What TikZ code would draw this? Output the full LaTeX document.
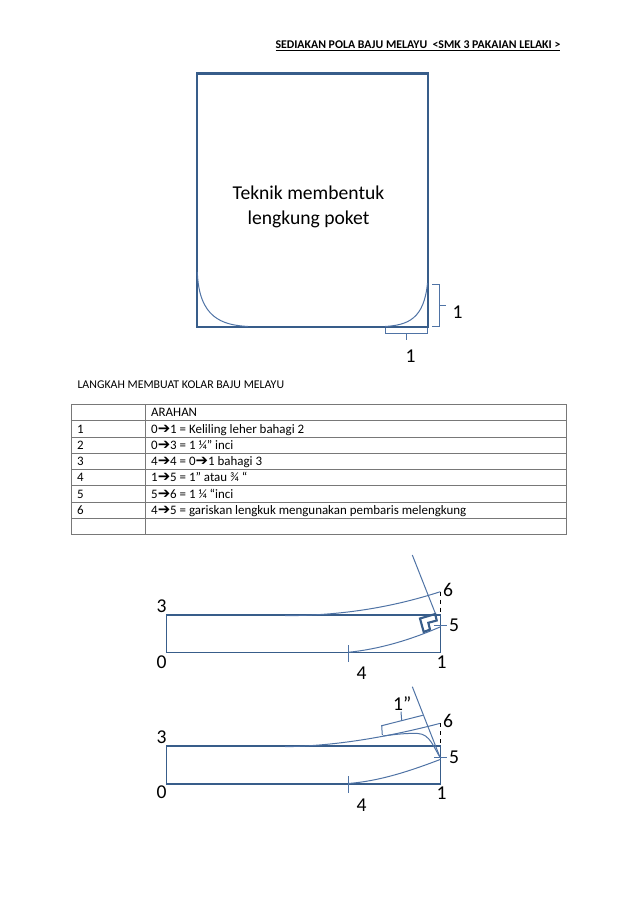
\documentclass[tikz,border=0pt]{standalone}
\usepackage{fontspec}
\setmainfont{Carlito}
\newfontfamily\arrowfont{DejaVu Sans}
\newcommand{\arrowmark}{{\arrowfont\scalebox{1.15}{➔}}}
\definecolor{darkblue}{RGB}{56,93,138}
\definecolor{thinblue}{RGB}{79,115,165}
\definecolor{rulegrey}{RGB}{120,120,120}
\tikzset{
  every picture/.style={line width=0.75pt},
  thinline/.style={color=thinblue,line width=0.75pt},
  boxline/.style={color=darkblue,line width=0.95pt},
  thickline/.style={color=darkblue,line width=1.6pt},
  tablerule/.style={color=rulegrey,line width=0.7pt},
  biglabel/.style={inner sep=0pt,font=\fontsize{14.7}{15}\selectfont},
  tabletext/.style={anchor=base west,inner sep=0pt,font=\fontsize{9.7}{10}\selectfont},
}
\begin{document}
\begin{tikzpicture}[x=0.75pt,y=0.75pt,yscale=-1,xscale=1]
\useasboundingbox (0,0) rectangle (638,903);

% Title
\node (title) [tabletext,font=\fontsize{8.87}{10}\selectfont\bfseries] at (275,48) {\underline{SEDIAKAN POLA BAJU MELAYU\ \ <SMK 3 PAKAIAN LELAKI >}};

% Pocket square
\coordinate (pa) at (196.7,73.5);
\coordinate (pb) at (427.7,73.5);
\coordinate (pc) at (427.7,326.7);
\coordinate (pd) at (196.7,326.7);
\draw [thickline] (pa) -- (pb) -- (pc) -- (pd) -- cycle;
\node (pocket) [biglabel,align=center,font=\fontsize{14.7}{18.75}\selectfont] at (308.5,207) {Teknik membentuk\\lengkung poket};

% Pocket curves
\coordinate (la) at (197.3,272);
\coordinate (lb) at (248,326.5);
\coordinate (ra) at (427.5,283);
\coordinate (rb) at (385,326.5);
\draw [thinline] (la) .. controls (199,318) and (222,325) .. (lb);
\draw [thinline] (ra) .. controls (424,319) and (408,325) .. (rb);

% Brackets
\coordinate (ba) at (432.3,284.3);
\coordinate (bb) at (439,284.3);
\coordinate (bc) at (439,326.7);
\coordinate (bd) at (432.3,326.7);
\coordinate (be) at (439,305.7);
\coordinate (bf) at (445.7,305.7);
\draw [thinline] (ba) -- (bb) -- (bc) -- (bd);
\draw [thinline] (be) -- (bf);
\coordinate (ca) at (385,327.5);
\coordinate (cb) at (385,333);
\coordinate (cc) at (427.7,333);
\coordinate (cd) at (427.7,327.5);
\coordinate (ce) at (406.7,333);
\coordinate (cf) at (406.7,340);
\draw [thinline] (ca) -- (cb) -- (cc) -- (cd);
\draw [thinline] (ce) -- (cf);
\node (numa) [biglabel] at (457.7,311.7) {1};
\node (numb) [biglabel] at (410.7,356) {1};

% Heading
\node (heading) [tabletext,font=\fontsize{8.9}{10}\selectfont] at (77,388.5) {LANGKAH MEMBUAT KOLAR BAJU MELAYU};

% Table
\draw [tablerule] (71,404.3) rectangle (566,534.3);
\draw [tablerule] (145,404.3) -- (145,534.3);
\draw [tablerule] (71,420.7) -- (566,420.7);
\draw [tablerule] (71,437.3) -- (566,437.3);
\draw [tablerule] (71,453.3) -- (566,453.3);
\draw [tablerule] (71,469.3) -- (566,469.3);
\draw [tablerule] (71,485.7) -- (566,485.7);
\draw [tablerule] (71,502) -- (566,502);
\draw [tablerule] (71,518.3) -- (566,518.3);
\node (rowa) [tabletext] at (150.7,416.5) {ARAHAN};
\node (noa) [tabletext] at (76.7,433) {1};
\node (rowb) [tabletext] at (150.7,433) {0\arrowmark1 = Keliling leher bahagi 2};
\node (nob) [tabletext] at (76.7,449) {2};
\node (rowc) [tabletext] at (150.7,449) {0\arrowmark3 = 1 ¼” inci};
\node (noc) [tabletext] at (76.7,465.5) {3};
\node (rowd) [tabletext] at (150.7,465.5) {4\arrowmark4 = 0\arrowmark1 bahagi 3};
\node (nod) [tabletext] at (76.7,481.5) {4};
\node (rowe) [tabletext] at (150.7,481.5) {1\arrowmark5 = 1” atau ¾ “};
\node (noe) [tabletext] at (76.7,498) {5};
\node (rowf) [tabletext] at (150.7,498) {5\arrowmark6 = 1 ¼ “inci};
\node (nof) [tabletext] at (76.7,514) {6};
\node (rowg) [tabletext] at (150.7,514) {4\arrowmark5 = gariskan lengkuk mengunakan pembaris melengkung};

% Upper collar
\coordinate (ua) at (166.7,615);
\coordinate (ub) at (440.3,615);
\coordinate (uc) at (440.3,652.7);
\coordinate (ud) at (166.7,652.7);
\draw [boxline] (ua) -- (ub) -- (uc) -- (ud) -- cycle;
\coordinate (ue) at (348.3,645);
\coordinate (uf) at (348.3,661.7);
\draw [thinline] (ue) -- (uf);
\coordinate (ug) at (285,615.7);
\coordinate (uh) at (440.3,591.7);
\draw [thinline] (ug) .. controls (340,615.5) and (390,608) .. (uh);
\draw [dashed,line width=0.4pt] (uh) -- (ub);
\coordinate (ui) at (348.3,652.3);
\coordinate (uj) at (440.7,626.7);
\draw [thinline] (ui) .. controls (380,649) and (410,640) .. (uj);
\coordinate (uk) at (412.3,555);
\coordinate (ul) at (435.7,614.3);
\draw [thinline] (uk) -- (ul);
\coordinate (um) at (434.3,625.3);
\coordinate (un) at (446.7,625.3);
\draw [thinline] (um) -- (un);
\coordinate (sa) at (420,618.5);
\coordinate (sb) at (435.2,614);
\coordinate (sc) at (436.7,620.5);
\coordinate (sd) at (428.3,622.8);
\coordinate (se) at (430,629.5);
\coordinate (sf) at (423.7,632);
\draw [thickline] (sa) -- (sb) -- (sc) -- (sd) -- (se) -- (sf) -- cycle;
\node (uthree) [biglabel] at (161.7,606) {3};
\node (uzero) [biglabel] at (161.7,661.7) {0};
\node (ufour) [biglabel] at (361.7,673.3) {4};
\node (uone) [biglabel] at (441.7,662.3) {1};
\node (ufive) [biglabel] at (454,625) {5};
\node (usix) [biglabel] at (448,590) {6};

% Lower collar
\coordinate (va) at (166.7,746);
\coordinate (vb) at (440.3,746);
\coordinate (vc) at (440.3,784);
\coordinate (vd) at (166.7,784);
\draw [boxline] (va) -- (vb) -- (vc) -- (vd) -- cycle;
\coordinate (ve) at (348.3,776);
\coordinate (vf) at (348.3,793);
\draw [thinline] (ve) -- (vf);
\coordinate (vg) at (285,746.7);
\coordinate (vh) at (440.3,723.3);
\draw [thinline] (vg) .. controls (330,746) and (380,739) .. (vh);
\draw [dashed,line width=0.4pt] (vh) -- (vb);
\coordinate (vi) at (348.3,783.5);
\coordinate (vj) at (440.7,759.3);
\draw [thinline] (vi) .. controls (380,781) and (410,771) .. (vj);
\coordinate (vk) at (412.3,686.7);
\coordinate (vl) at (440,757.3);
\draw [thinline] (vk) -- (vl);
\coordinate (vm) at (434.3,757.3);
\coordinate (vn) at (446.7,757.3);
\draw [thinline] (vm) -- (vn);
\coordinate (vo) at (383,736);
\draw [thinline] (vo) .. controls (395,734.5) and (405,733) .. (418,733.5) .. controls (430,734) and (434,748) .. (vl);
\coordinate (wa) at (382.3,735);
\coordinate (wb) at (381.7,725.7);
\coordinate (wc) at (422.7,715.3);
\coordinate (wd) at (401.7,720.7);
\coordinate (we) at (401,711.7);
\draw [thinline] (wa) -- (wb) -- (wc);
\draw [thinline] (wd) -- (we);
\node (vthree) [biglabel] at (161.7,737) {3};
\node (vzero) [biglabel] at (161.7,792) {0};
\node (vfour) [biglabel] at (361.7,805) {4};
\node (vone) [biglabel] at (441.7,793.3) {1};
\node (vfive) [biglabel] at (454,757.3) {5};
\node (vsix) [biglabel] at (448,721) {6};
\node (vinch) [biglabel] at (402.3,703.3) {1”};
\end{tikzpicture}
\end{document}
